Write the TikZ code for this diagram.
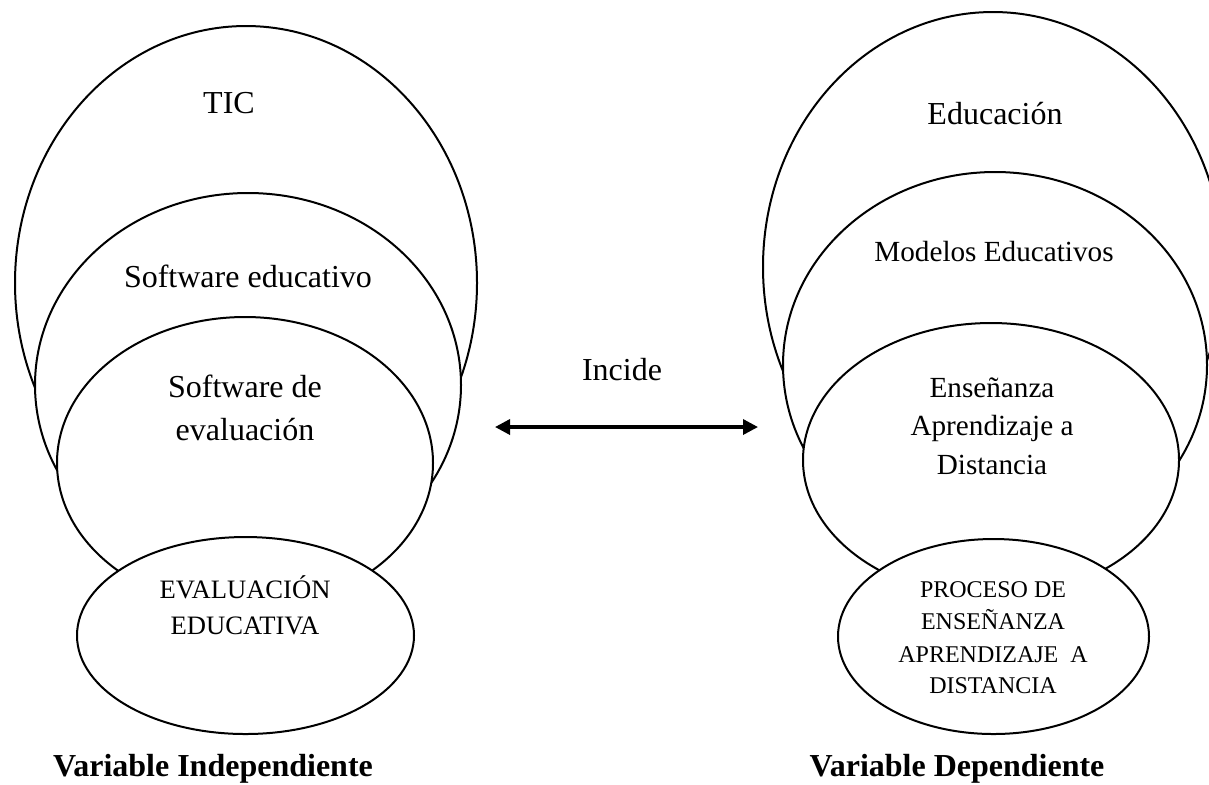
\documentclass[tikz,border=0pt]{standalone}
\usepackage{fontspec}
\setmainfont{Liberation Serif}
\usetikzlibrary{shapes.geometric,arrows.meta}
\tikzset{
  ell/.style={ellipse, draw=black, fill=white, line width=1pt, inner sep=0pt, outer sep=0pt},
  lbl/.style={anchor=base, inner sep=0pt, font=\fontsize{16}{21.5}\selectfont},
  lblm/.style={anchor=base, inner sep=0pt, font=\fontsize{14.6}{19.5}\selectfont},
  lbls/.style={anchor=base, inner sep=0pt, font=\fontsize{13.3}{17.5}\selectfont},
  lblxs/.style={anchor=base, inner sep=0pt, font=\fontsize{12}{15.8}\selectfont},
  ttl/.style={anchor=base, inner sep=0pt, font=\fontsize{16}{20}\selectfont\bfseries},
  dbl/.style={line width=1.7pt, {Triangle[length=7.5pt,width=7.5pt]}-{Triangle[length=7.5pt,width=7.5pt]}}
}
\begin{document}
\begin{tikzpicture}[x=0.5pt,y=-0.5pt]
\useasboundingbox (0,0) rectangle (1209,784);
\clip (0,0) rectangle (1209,784);
% left group
\node[ell, minimum width=231pt, minimum height=257pt] (tic) at (246,283) {};
\node[ell, minimum width=213pt, minimum height=192pt] (swedu) at (248,385) {};
\node[ell, minimum width=188pt, minimum height=146pt] (sweval) at (245,463) {};
\node[ell, minimum width=168.5pt, minimum height=98.5pt] (evaledu) at (245.5,635.5) {};
\node[lbl] (tTIC) at (229,113) {TIC};
\node[lbl] (tSE) at (248,287) {Software educativo};
\node[lbl] (tSD1) at (245,397) {Software de};
\node[lbl] (tSD2) at (245,440) {evaluación};
\node[lbls] (tEE1) at (245,598) {EVALUACIÓN};
\node[lbls] (tEE2) at (245,634) {EDUCATIVA};
\node[ttl] (tVI) at (213,776) {Variable Independiente};
% right group
\node[ell, minimum width=230pt, minimum height=255pt] (edu) at (993,267) {};
\node[ell, minimum width=212pt, minimum height=193pt] (modelos) at (995,365) {};
\node[ell, minimum width=188pt, minimum height=137pt] (ead) at (991,460) {};
\node[ell, minimum width=155.5pt, minimum height=97.5pt] (pead) at (993.5,636.5) {};
\node[lbl] (tEdu) at (995,124) {Educación};
\node[lblm] (tME) at (994,261) {Modelos Educativos};
\node[lblm] (tEA1) at (992,397) {Enseñanza};
\node[lblm] (tEA2) at (992,435) {Aprendizaje a};
\node[lblm] (tEA3) at (992,474) {Distancia};
\node[lblxs] (tP1) at (993,597) {PROCESO DE};
\node[lblxs] (tP2) at (993,629) {ENSEÑANZA};
\node[lblxs] (tP3) at (993,662) {APRENDIZAJE\ \ A};
\node[lblxs] (tP4) at (993,693) {DISTANCIA};
\node[ttl] (tVD) at (957,776) {Variable Dependiente};
% relation
\node[lbl] (tInc) at (622,380) {Incide};
\coordinate (aL) at (495,427);
\coordinate (aR) at (758,427);
\draw[dbl] (aL) -- (aR);
\end{tikzpicture}
\end{document}
